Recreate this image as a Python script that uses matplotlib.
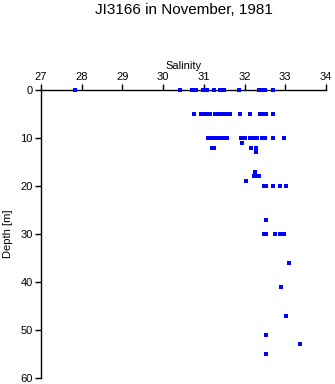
import numpy as np
import matplotlib
matplotlib.use("Agg")
import matplotlib.pyplot as plt

plt.rcParams['font.family'] = ['Liberation Sans', 'DejaVu Sans']

# sample depths [m] and salinities measured at each depth
depths = [0, 5, 10, 11, 12, 13, 17, 18, 19, 20, 27, 30, 36, 41, 47, 51, 53, 55]
sal_0 = [27.84, 30.41, 30.70, 30.75, 30.81, 30.97, 31.02, 31.08, 31.25, 31.39,
         31.50, 31.87, 32.35, 32.42, 32.49, 32.70]
sal_5 = [30.76, 30.92, 31.03, 31.09, 31.16, 31.28, 31.37, 31.47, 31.57, 31.63,
         31.88, 32.14, 32.38, 32.46, 32.53, 32.70]
sal_10 = [31.10, 31.17, 31.27, 31.37, 31.45, 31.52, 31.58, 31.92, 32.01, 32.14,
          32.22, 32.30, 32.42, 32.50, 32.71, 32.96]
sal_11 = [31.93]
sal_12 = [31.19, 31.25, 32.17, 32.28]
sal_13 = [32.29]
sal_17 = [32.25]
sal_18 = [32.22, 32.28, 32.36]
sal_19 = [32.04]
sal_20 = [32.47, 32.53, 32.70, 32.87, 33.02]
sal_27 = [32.52]
sal_30 = [32.47, 32.53, 32.75, 32.88, 32.96]
sal_36 = [33.10]
sal_41 = [32.89]
sal_47 = [33.02]
sal_51 = [32.52]
sal_53 = [33.37]
sal_55 = [32.52]
salinity = [sal_0, sal_5, sal_10, sal_11, sal_12, sal_13, sal_17, sal_18, sal_19,
            sal_20, sal_27, sal_30, sal_36, sal_41, sal_47, sal_51, sal_53, sal_55]

x = []
y = []
for d, s in zip(depths, salinity):
    x += s
    y += [d] * len(s)

fig = plt.figure(figsize=(3.35, 3.84), dpi=100)
ax = fig.add_axes([41/335, 1-378/384, 285/335, 288/384])

ax.plot(x, y, 's', color='#0000ff', markersize=2.4, markeredgewidth=0,
        antialiased=False, clip_on=False, zorder=5)

ax.set_xlim(27, 34)
ax.set_ylim(60, 0)
ax.set_xticks(np.arange(27, 35, 1))
ax.set_yticks(np.arange(0, 61, 10))

ax.xaxis.tick_top()
ax.xaxis.set_label_position('top')
ax.spines['right'].set_visible(False)
ax.spines['bottom'].set_visible(False)
ax.spines['top'].set_linewidth(1)
ax.spines['left'].set_linewidth(1)
ax.tick_params(axis='both', length=4, width=1, labelsize=8, pad=2)

ax.set_xlabel('Salinity', fontsize=8, labelpad=2)
ax.set_ylabel('Depth [m]', fontsize=8, labelpad=5)
fig.text(183.5/335, 1-10/384, 'JI3166 in November, 1981', ha='center', va='center', fontsize=11)

fig.savefig('out.png', dpi=100)
